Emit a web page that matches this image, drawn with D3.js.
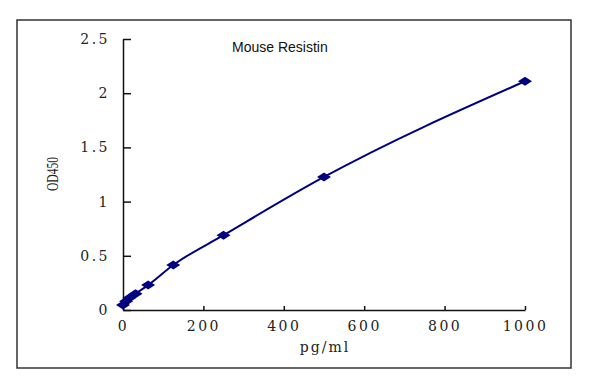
<!DOCTYPE html>
<html>
<head>
<meta charset="utf-8">
<script src="https://cdn.jsdelivr.net/npm/d3@7"></script>
<style>
  body { margin: 0; background: #fff; }
  .tick text { font-family: "DejaVu Serif", serif; font-size: 14px; fill: #222; letter-spacing: 2.5px; }
  .domain { stroke: #111; stroke-width: 1.5; }
  .tick line { stroke: #111; stroke-width: 1.5; }
</style>
</head>
<body>
<div id="chart"></div>
<script>
// standard curve values
var concentrations = [0, 7.8, 15.6, 31.25, 62.5, 125, 250, 500, 1000];
var odValues = [0.045, 0.08, 0.11, 0.15, 0.23, 0.415, 0.69, 1.227, 2.11];
var xTicks = [0, 200, 400, 600, 800, 1000];
var yTicks = [0, 0.5, 1, 1.5, 2, 2.5];

var width = 600, height = 376;
var svg = d3.select("#chart").append("svg")
    .attr("width", width)
    .attr("height", height);

// outer frame
svg.append("rect")
    .attr("x", 17).attr("y", 20)
    .attr("width", 554).attr("height", 348)
    .attr("fill", "#fff")
    .attr("stroke", "#333")
    .attr("stroke-width", 1.5);

var x = d3.scaleLinear().domain([0, 1000]).range([123, 525]);
var y = d3.scaleLinear().domain([0, 2.5]).range([310, 39]);

// axes - ticks point inward like the original
svg.append("g")
    .attr("transform", "translate(0,310)")
    .call(d3.axisBottom(x).tickValues(xTicks).tickSize(-4).tickPadding(11).tickSizeOuter(0)
        .tickFormat(d3.format("d")));

svg.append("g")
    .attr("transform", "translate(123,0)")
    .call(d3.axisLeft(y).tickValues(yTicks).tickSize(-8).tickPadding(13).tickSizeOuter(0)
        .tickFormat(function(d) { return String(d); }));

// curve
var pts = concentrations.map(function(c, i) { return [c, odValues[i]]; });

svg.append("path")
    .datum(pts)
    .attr("fill", "none")
    .attr("stroke", "#000080")
    .attr("stroke-width", 2)
    .attr("d", d3.line()
        .x(function(d) { return x(d[0]); })
        .y(function(d) { return y(d[1]); })
        .curve(d3.curveMonotoneX));

// diamond markers (flattened)
svg.selectAll(".pt")
    .data(pts)
  .enter().append("path")
    .attr("class", "pt")
    .attr("fill", "#000080")
    .attr("d", function(d) {
        var cx = x(d[0]), cy = y(d[1]);
        return "M" + (cx - 7) + "," + cy + "L" + cx + "," + (cy - 4.5) +
               "L" + (cx + 7) + "," + cy + "L" + cx + "," + (cy + 4.5) + "Z";
    });

// title
svg.append("text")
    .attr("x", 232).attr("y", 52)
    .attr("font-family", "Liberation Sans, Arial, sans-serif")
    .attr("font-size", 14)
    .attr("fill", "#111")
    .text("Mouse Resistin");

// x axis title
svg.append("text")
    .attr("x", 325).attr("y", 352)
    .attr("text-anchor", "middle")
    .attr("font-family", "DejaVu Serif, serif")
    .attr("font-size", 14)
    .attr("letter-spacing", "2px")
    .attr("fill", "#222")
    .text("pg/ml");

// y axis title
svg.append("text")
    .attr("transform", "translate(58,174) rotate(-90)")
    .attr("text-anchor", "middle")
    .attr("font-family", "Liberation Serif, serif")
    .attr("font-size", 16)
    .attr("textLength", 34)
    .attr("lengthAdjust", "spacingAndGlyphs")
    .attr("fill", "#222")
    .text("OD450");
</script>
</body>
</html>
